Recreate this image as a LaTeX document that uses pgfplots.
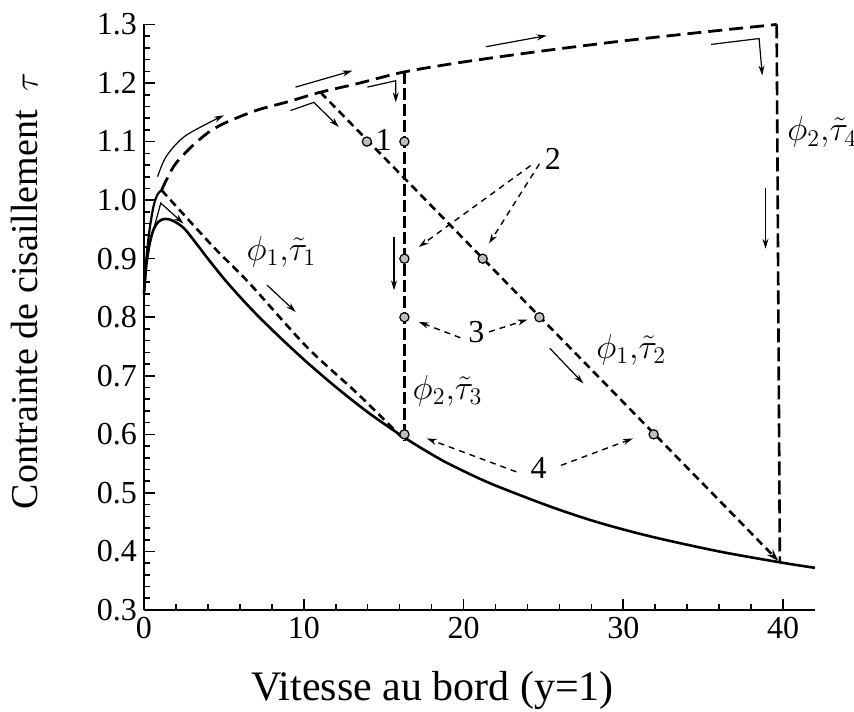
\documentclass[border=0pt]{standalone}
\usepackage{fontspec}
\setmainfont{Liberation Serif}
\usepackage{pgfplots}
\pgfplotsset{compat=1.18}
\usetikzlibrary{arrows.meta}
\begin{document}
\begin{tikzpicture}[x=1pt,y=1pt]
\useasboundingbox (-72,-50.5) rectangle (355,305);
\begin{axis}[at={(0,0)},anchor=south west, scale only axis, width=335.5pt, height=292.75pt,
 xmin=0,xmax=42,ymin=0.3,ymax=1.3,
 axis lines=left, axis line style={-, line width=1.2pt},
 clip=false,
 xtick={0,10,20,30,40}, ytick={0.3,0.4,0.5,0.6,0.7,0.8,0.9,1.0,1.1,1.2,1.3},
 minor x tick num=4, minor y tick num=4,
 tick align=inside, major tick length=5.5pt, minor tick length=3pt,
 tick style={line width=0.8pt,black},
 yticklabel style={/pgf/number format/fixed,/pgf/number format/fixed zerofill,/pgf/number format/precision=1},
 /pgf/number format/assume math mode=true,
 ticklabel style={font=\fontsize{16}{18}\selectfont},
 xlabel={Vitesse au bord (y=1)}, ylabel={Contrainte de cisaillement\ \ $\tau$},
 xlabel style={font=\fontsize{21}{24}\selectfont, at={(axis description cs:0.43,-0.137)},anchor=center},
 ylabel style={font=\fontsize{19}{22}\selectfont, at={(axis description cs:-0.178,0.545)},anchor=center},
]
% solid curve
\addplot[black, line width=1.3pt, smooth] coordinates {
(0,0.84)(0.15,0.89)(0.35,0.925)(0.6,0.95)(0.9,0.963)(1.3,0.968)(1.8,0.965)(2.5,0.952)(3.3,0.925)(4,0.9)(5,0.866)(6,0.835)(7,0.806)(8,0.779)(9,0.753)(10,0.728)(11,0.704)(12,0.681)(13,0.659)(14,0.638)(15,0.6185)(16.5,0.591)(18,0.566)(19.2,0.548)(21.7,0.516)(25.5,0.476)(28.5,0.449)(31.8,0.425)(36,0.4)(39.9,0.381)(42,0.372)};
% rise of outer curve
\addplot[black, line width=1.1pt, smooth] coordinates {
(0,0.84)(0.15,0.9)(0.35,0.95)(0.6,0.99)(0.85,1.01)(1.1,1.017)};
% phi1 tau1 short dash
\addplot[black, line width=1.3pt, smooth, dash pattern=on 4pt off 2.5pt] coordinates {
(1.1,1.017)(2,0.99)(3,0.96)(4.56,0.914)(6.6,0.858)(10.2,0.749)(13.35,0.67)(16.1,0.596)};
% upper long-dash curve
\addplot[black, line width=1.4pt, smooth, dash pattern=on 7pt off 3.5pt] coordinates {
(1.1,1.017)(1.5,1.04)(2,1.063)(3,1.092)(4,1.115)(5,1.131)(7,1.153)(9,1.168)(11,1.184)(13.35,1.199)(16.3,1.219)(20,1.236)(25,1.255)(30,1.272)(35,1.287)(39.6,1.3)};
% vertical phi2 tau3
\addplot[black, line width=1.1pt, dash pattern=on 6pt off 2pt] coordinates {(16.3,1.219)(16.3,0.59)};
% vertical phi2 tau4
\addplot[black, line width=1.3pt, dash pattern=on 7pt off 2.5pt] coordinates {(39.6,1.3)(39.8,0.382)};
% diagonal phi1 tau2
\addplot[black, line width=1.3pt, dash pattern=on 4pt off 2.5pt, -{Stealth[length=6pt,width=4pt]}] coordinates {(11.05,1.184)(39.7,0.384)};
% direction arrows
\addplot[black, line width=0.6pt, smooth, -{Stealth[length=5pt,width=3pt]}] coordinates {(0.85,1.04)(1.4,1.075)(2.6,1.11)(5.0,1.145)};
\addplot[black, line width=0.6pt, -{Stealth[length=5pt,width=3pt]}] coordinates {(9.48,1.193)(13.04,1.221)};
\addplot[black, line width=0.6pt, -{Stealth[length=5pt,width=3pt]}] coordinates {(9.17,1.153)(10.63,1.167)(12.2,1.125)};
\addplot[black, line width=0.6pt, -{Stealth[length=5pt,width=3pt]}] coordinates {(13.98,1.193)(15.76,1.204)(15.76,1.167)};
\addplot[black, line width=0.6pt, -{Stealth[length=5pt,width=3pt]}] coordinates {(21.4,1.262)(25.2,1.281)};
\addplot[black, line width=0.6pt, -{Stealth[length=5pt,width=3pt]}] coordinates {(35.5,1.266)(38.5,1.276)(38.7,1.213)};
\addplot[black, line width=0.6pt, -{Stealth[length=5pt,width=3pt]}] coordinates {(38.9,1.02)(38.9,0.917)};
\addplot[black, line width=0.6pt, -{Stealth[length=5pt,width=3pt]}] coordinates {(15.65,0.937)(15.65,0.846)};
\addplot[black, line width=0.6pt, -{Stealth[length=5pt,width=3pt]}] coordinates {(7.7,0.855)(9.5,0.809)};
\addplot[black, line width=0.6pt, -{Stealth[length=5pt,width=3pt]}] coordinates {(25.4,0.747)(27.5,0.687)};
\addplot[black, line width=0.6pt, -{Stealth[length=5pt,width=3pt]}] coordinates {(0.58,0.948)(1.05,0.995)(2.47,0.96)};
% dashed pointer arrows
\addplot[black, line width=0.7pt, dash pattern=on 3pt off 2.5pt, -{Stealth[length=5pt,width=3pt]}] coordinates {(24.75,1.062)(21.6,0.926)};
\addplot[black, line width=0.7pt, dash pattern=on 3pt off 2.5pt, -{Stealth[length=5pt,width=3pt]}] coordinates {(24.2,1.059)(17.2,0.92)};
\addplot[black, line width=0.7pt, dash pattern=on 3pt off 2.5pt, -{Stealth[length=5pt,width=3pt]}] coordinates {(19.8,0.765)(17.2,0.792)};
\addplot[black, line width=0.7pt, dash pattern=on 3pt off 2.5pt, -{Stealth[length=5pt,width=3pt]}] coordinates {(21.6,0.775)(24.0,0.796)};
\addplot[black, line width=0.7pt, dash pattern=on 3pt off 2.5pt, -{Stealth[length=5pt,width=3pt]}] coordinates {(23.3,0.536)(17.7,0.593)};
\addplot[black, line width=0.7pt, dash pattern=on 3pt off 2.5pt, -{Stealth[length=5pt,width=3pt]}] coordinates {(26.1,0.547)(30.6,0.593)};
% markers
\addplot[only marks, mark=*, mark size=2.3pt, mark options={fill=gray!50, draw=black, line width=0.6pt}] coordinates {
(13.95,1.1)(16.3,1.1)(16.3,0.9)(21.2,0.9)(16.3,0.8)(24.75,0.8)(16.3,0.6)(31.9,0.6)};
% labels
\node[font=\fontsize{16}{18}\selectfont] at (axis cs:15.0,1.102) {1};
\node[font=\fontsize{16}{18}\selectfont] at (axis cs:25.6,1.071) {2};
\node[font=\fontsize{16}{18}\selectfont] at (axis cs:20.8,0.775) {3};
\node[font=\fontsize{16}{18}\selectfont] at (axis cs:24.7,0.542) {4};
\node[font=\fontsize{18}{21}\selectfont] at (axis cs:8.6,0.912) {$\phi_1{,}\tilde{\tau}_1$};
\node[font=\fontsize{18}{21}\selectfont] at (axis cs:19.0,0.674) {$\phi_2{,}\tilde{\tau}_3$};
\node[font=\fontsize{18}{21}\selectfont] at (axis cs:30.5,0.744) {$\phi_1{,}\tilde{\tau}_2$};
\node[font=\fontsize{17}{20}\selectfont, anchor=west, inner sep=0pt] at (axis cs:40.25,1.116) {$\phi_2{,}\tilde{\tau}_4$};
\end{axis}
\end{tikzpicture}
\end{document}
